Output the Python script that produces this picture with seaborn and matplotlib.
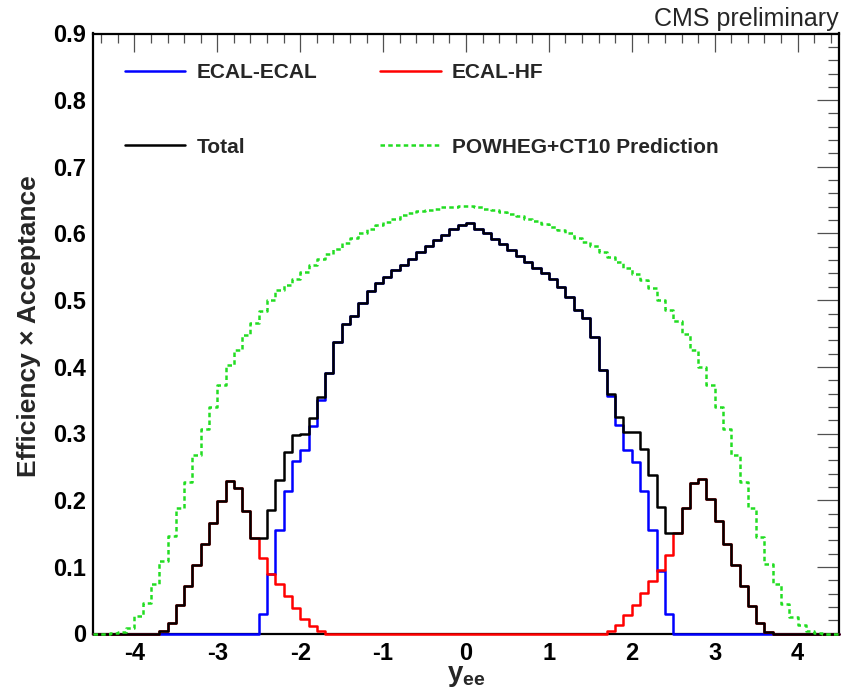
import numpy as np
import pandas as pd
import matplotlib
matplotlib.use("Agg")
import matplotlib.pyplot as plt
from matplotlib.ticker import MultipleLocator, FuncFormatter
from matplotlib.lines import Line2D
import seaborn as sns

# ---------------- data (90 bins of width 0.1 from -4.5 to 4.5) ----------------
y_lo, y_hi, bin_w = -4.5, 4.5, 0.1

ecal_ecal = [
    0, 0, 0, 0, 0, 0, 0, 0, 0, 0,                                   # -4.5 .. -3.6
    0, 0, 0, 0, 0, 0, 0, 0, 0, 0,                                   # -3.5 .. -2.6
    0.030, 0.090, 0.155, 0.214, 0.259,                              # -2.5 .. -2.1
    0.276, 0.311, 0.351, 0.391, 0.437, 0.464, 0.476, 0.495, 0.513, 0.526,  # -2.0 .. -1.1
    0.534, 0.545, 0.552, 0.561, 0.572, 0.582, 0.590, 0.598, 0.606, 0.612,  # -1.0 .. -0.1
    0.615, 0.607, 0.600, 0.592, 0.584, 0.575, 0.566, 0.557, 0.548, 0.540,  # 0.0 .. 0.9
    0.531, 0.520, 0.505, 0.485, 0.473, 0.445, 0.395, 0.356, 0.313, 0.275,  # 1.0 .. 1.9
    0.258, 0.214, 0.156, 0.094, 0.030, 0, 0, 0, 0, 0,              # 2.0 .. 2.9
    0, 0, 0, 0, 0, 0, 0, 0, 0, 0,                                   # 3.0 .. 3.9
    0, 0, 0, 0, 0,                                                  # 4.0 .. 4.4
]

ecal_hf = [
    0, 0, 0, 0, 0, 0, 0, 0, 0.004, 0.016,                          # -4.5 .. -3.6
    0.043, 0.071, 0.103, 0.134, 0.166, 0.199, 0.229, 0.219, 0.184, 0.144,  # -3.5 .. -2.6
    0.113, 0.090, 0.074, 0.057, 0.039,                              # -2.5 .. -2.1
    0.022, 0.012, 0.004, 0, 0, 0, 0, 0, 0, 0,                      # -2.0 .. -1.1
    0, 0, 0, 0, 0, 0, 0, 0, 0, 0,                                   # -1.0 .. -0.1
    0, 0, 0, 0, 0, 0, 0, 0, 0, 0,                                   # 0.0 .. 0.9
    0, 0, 0, 0, 0, 0, 0, 0.004, 0.013, 0.028,                       # 1.0 .. 1.9
    0.043, 0.061, 0.079, 0.095, 0.118, 0.151, 0.188, 0.226, 0.232, 0.202,  # 2.0 .. 2.9
    0.169, 0.135, 0.103, 0.072, 0.042, 0.016, 0.003, 0, 0, 0,       # 3.0 .. 3.9
    0, 0, 0, 0, 0,                                                  # 4.0 .. 4.4
]

total = [
    0, 0, 0, 0, 0, 0, 0, 0, 0.004, 0.016,                          # -4.5 .. -3.6
    0.043, 0.071, 0.103, 0.134, 0.166, 0.199, 0.229, 0.219, 0.184, 0.144,  # -3.5 .. -2.6
    0.143, 0.185, 0.230, 0.272, 0.298,                              # -2.5 .. -2.1
    0.300, 0.323, 0.355, 0.391, 0.437, 0.464, 0.476, 0.495, 0.513, 0.526,  # -2.0 .. -1.1
    0.534, 0.545, 0.552, 0.561, 0.572, 0.582, 0.590, 0.598, 0.606, 0.612,  # -1.0 .. -0.1
    0.615, 0.607, 0.600, 0.592, 0.584, 0.575, 0.566, 0.557, 0.548, 0.540,  # 0.0 .. 0.9
    0.531, 0.520, 0.505, 0.485, 0.473, 0.445, 0.395, 0.360, 0.325, 0.303,  # 1.0 .. 1.9
    0.303, 0.277, 0.238, 0.190, 0.151, 0.151, 0.188, 0.226, 0.232, 0.202,  # 2.0 .. 2.9
    0.169, 0.135, 0.103, 0.072, 0.042, 0.016, 0.003, 0, 0, 0,       # 3.0 .. 3.9
    0, 0, 0, 0, 0,                                                  # 4.0 .. 4.4
]

powheg = [
    0, 0, 0.001, 0.003, 0.008,                                      # -4.5 .. -4.1
    0.026, 0.046, 0.074, 0.109, 0.146, 0.188, 0.228, 0.268, 0.307, 0.340,  # -4.0 .. -3.1
    0.373, 0.402, 0.425, 0.448, 0.466, 0.484, 0.500, 0.515, 0.522, 0.532,  # -3.0 .. -2.1
    0.542, 0.552, 0.561, 0.569, 0.577, 0.586, 0.594, 0.601, 0.607, 0.612,  # -2.0 .. -1.1
    0.617, 0.622, 0.627, 0.630, 0.633, 0.635, 0.637, 0.639, 0.640, 0.641,  # -1.0 .. -0.1
    0.641, 0.640, 0.637, 0.635, 0.632, 0.629, 0.626, 0.622, 0.618, 0.614,  # 0.0 .. 0.9
    0.610, 0.605, 0.600, 0.594, 0.588, 0.581, 0.573, 0.565, 0.557, 0.548,  # 1.0 .. 1.9
    0.539, 0.530, 0.518, 0.500, 0.485, 0.468, 0.449, 0.425, 0.400, 0.373,  # 2.0 .. 2.9
    0.340, 0.307, 0.268, 0.228, 0.188, 0.145, 0.105, 0.075, 0.045, 0.025,  # 3.0 .. 3.9
    0.013, 0.004, 0.001, 0, 0,                                      # 4.0 .. 4.4
]

labels = ["ECAL-ECAL", "Total", "ECAL-HF", "POWHEG+CT10 Prediction"]
x_ticks = [-4, -3, -2, -1, 0, 1, 2, 3, 4]
y_ticks = [0, 0.1, 0.2, 0.3, 0.4, 0.5, 0.6, 0.7, 0.8, 0.9]

# ---------------- style ----------------
sns.set_style("white")
plt.rcParams["font.family"] = ["Liberation Sans", "DejaVu Sans"]
plt.rcParams["font.weight"] = "bold"
plt.rcParams["axes.unicode_minus"] = False
plt.rcParams["mathtext.fontset"] = "custom"
plt.rcParams["mathtext.bf"] = "Liberation Sans:bold"
plt.rcParams["mathtext.rm"] = "Liberation Sans:bold"
plt.rcParams["mathtext.it"] = "Liberation Sans:bold"

n_bins = len(total)
centers = np.round(y_lo + bin_w * (np.arange(n_bins) + 0.5), 3)
df = pd.DataFrame({"yee": centers, "ecal_ecal": ecal_ecal, "ecal_hf": ecal_hf,
                   "total": total, "powheg": powheg})

fig = plt.figure(figsize=(8.52, 6.92), dpi=100)
ax = fig.add_axes([93 / 852, 1 - 633.5 / 692, (839 - 93) / 852, 600 / 692])

c_blue, c_red, c_black, c_green = "#0000ff", "#ff0000", "#000000", "#22dd22"
lw = 1.8
dash = (0, (1.8, 1.3))

common = dict(data=df, x="yee", binwidth=bin_w, binrange=(y_lo, y_hi),
              element="step", fill=False, linewidth=lw, ax=ax, clip_on=False)
sns.histplot(weights="ecal_ecal", color=c_blue, zorder=3, **common)
sns.histplot(weights="ecal_hf", color=c_red, zorder=4, **common)
sns.histplot(weights="total", color=c_black, zorder=5, **common)
sns.histplot(weights="powheg", color=c_green, linestyle=dash, zorder=6, **common)

ax.set_xlim(y_lo, y_hi)
ax.set_ylim(0, 0.9)

ax.xaxis.set_major_locator(MultipleLocator(1))
ax.xaxis.set_minor_locator(MultipleLocator(0.2))
ax.yaxis.set_major_locator(MultipleLocator(0.1))
ax.yaxis.set_minor_locator(MultipleLocator(0.02))
ax.set_xticks(x_ticks)
ax.set_yticks(y_ticks)
ax.yaxis.set_major_formatter(FuncFormatter(lambda v, p: "0" if abs(v) < 1e-9 else f"{v:.1f}"))

ax.tick_params(axis="both", which="both", direction="in", top=True, right=True,
               colors="#505050", labelcolor="black", labelsize=17, width=0.9)
ax.tick_params(axis="x", which="major", length=13, pad=6)
ax.tick_params(axis="x", which="minor", length=6.5)
ax.tick_params(axis="y", which="major", length=16, pad=5)
ax.tick_params(axis="y", which="minor", length=8)

for s in ax.spines.values():
    s.set_visible(True)
    s.set_color("black")
    s.set_linewidth(1.6)
    s.set_zorder(2)

ax.set_ylabel("Efficiency × Acceptance", fontsize=19, fontweight="bold")
ax.yaxis.set_label_coords(-0.07, 0.512)
ax.set_xlabel(r"$\mathbf{y_{ee}}$", fontsize=20, labelpad=-1)

ax.text(1.0, 1.004, "CMS preliminary", transform=ax.transAxes, ha="right", va="bottom",
        fontsize=18, fontweight="normal")

handles = [
    Line2D([], [], color=c_blue, lw=lw),
    Line2D([], [], color=c_black, lw=lw),
    Line2D([], [], color=c_red, lw=lw),
    Line2D([], [], color=c_green, lw=lw, linestyle=dash),
]
leg = ax.legend(handles, labels, ncol=2, loc="upper left", bbox_to_anchor=(0.043, 0.95),
                frameon=False, fontsize=15, handlelength=2.9, handletextpad=0.55,
                columnspacing=3.0, labelspacing=2.65, borderpad=0, borderaxespad=0)
for t in leg.get_texts():
    t.set_fontweight("bold")

fig.savefig("out.png", dpi=100)
